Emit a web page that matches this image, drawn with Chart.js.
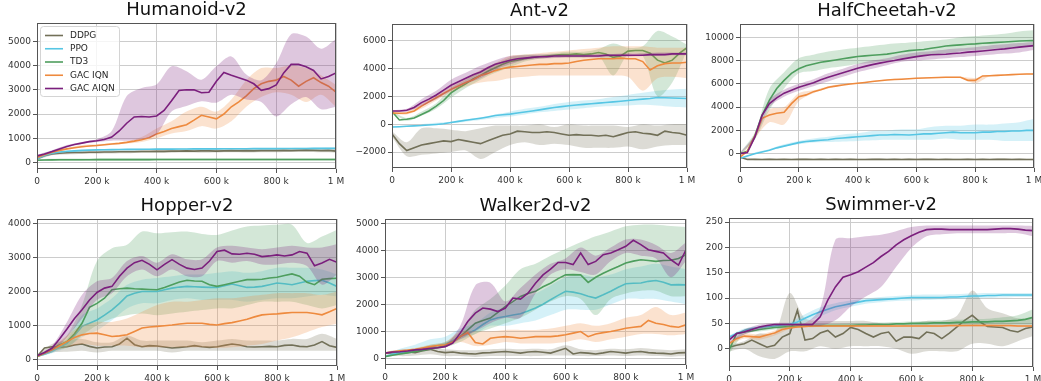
<!DOCTYPE html>
<html>
<head>
<meta charset="utf-8">
<script src="https://cdn.jsdelivr.net/npm/chart.js@4.4.1/dist/chart.umd.min.js"></script>
<style>
  body { margin: 0; background: #fff; }
  #page { position: relative; width: 1041px; height: 381px; overflow: hidden; background: #fff; }
  canvas { position: absolute; }
</style>
</head>
<body>
<div id="page">
  <canvas id="humanoid"></canvas>
  <canvas id="ant"></canvas>
  <canvas id="cheetah"></canvas>
  <canvas id="hopper"></canvas>
  <canvas id="walker"></canvas>
  <canvas id="swimmer"></canvas>
</div>
<script>
// timesteps in thousands
const stepsFine = [0,25,50,75,100,125,150,175,200,225,250,275,300,325,350,375,400,425,450,475,500,525,550,575,600,625,650,675,700,725,750,775,800,825,850,875,900,925,950,975,1000];
const stepsCoarse = [0,50,100,150,200,250,300,350,400,450,500,550,600,650,700,750,800,850,900,950,1000];
const xTicks = [0,200,400,600,800,1000];
const xTickLabels = ['0','200 k','400 k','600 k','800 k','1 M'];

const seriesNames = ['DDPG','PPO','TD3','GAC IQN','GAC AIQN'];
const seriesColors = ['#727058','#56c6e4','#4e9e5e','#ee8a3e','#7b1f7d'];
const bandColors = ['rgba(114,112,88,0.25)','rgba(86,198,228,0.25)','rgba(78,158,94,0.25)','rgba(238,138,62,0.25)','rgba(123,31,125,0.25)'];

// ---- Humanoid-v2
const humanoidTicks = [0,1000,2000,3000,4000,5000];
const humanoidDDPG = [150,280,350,380,400,410,410,420,420,430,430,440,440,445,450,450,460,460,470,470,480,470,480,480,470,480,490,480,490,480,490,490,490,500,490,500,510,500,490,500,470];
const humanoidDDPGLo = [100,300,330,350,360,370,380,390,390,400,410,400,410,420,410,420,420,430,430,420,400];
const humanoidDDPGHi = [200,400,440,470,490,500,500,510,520,530,540,540,550,550,560,560,560,570,570,580,560];
const humanoidPPO = [150,300,380,430,460,480,500,510,520,525,530,535,540,540,545,545,550,550,550,555,555,560,560,560,560,565,565,565,565,570,570,570,570,575,575,575,575,580,580,580,580];
const humanoidPPOLo = [120,330,410,450,480,490,500,505,510,515,520,520,525,525,530,530,535,535,540,540,545];
const humanoidPPOHi = [180,390,470,510,540,550,560,565,570,575,580,585,590,590,595,595,600,600,605,610,615];
const humanoidTD3 = [90,100,105,110,110,112,114,115,116,116,117,118,118,118,119,119,120,120,120,120,121,121,121,121,122,122,122,122,122,123,123,123,123,123,124,124,124,124,124,125,125];
const humanoidTD3Lo = [60,60,65,65,70,70,70,70,70,70,70,70,70,70,70,70,70,70,70,70,70];
const humanoidTD3Hi = [130,150,160,165,165,170,170,170,170,170,170,170,170,175,175,175,175,175,175,175,175];
const humanoidIQN = [200,330,420,500,560,610,650,680,700,730,760,790,830,880,940,1020,1180,1280,1400,1480,1560,1750,1950,1880,1800,2000,2300,2500,2750,3050,3250,3350,3400,3550,3400,3150,3350,3500,3300,3150,2900];
const humanoidIQNLo = [150,380,520,620,670,720,780,850,1000,1200,1300,1500,1400,1700,2300,2700,2900,2800,2500,2800,2300];
const humanoidIQNHi = [250,460,600,720,750,800,880,1050,1400,1700,2100,2300,2100,2600,3400,3900,3900,4000,3900,3600,3200];
const humanoidAIQN = [270,350,450,560,660,740,800,860,900,950,1050,1300,1620,1880,1900,1880,1920,2150,2550,2970,3000,3000,2880,2900,3350,3720,3600,3500,3400,3250,2980,3050,3200,3700,4050,4050,3950,3800,3450,3550,3700];
const humanoidAIQNLo = [230,400,620,760,840,900,900,960,1160,2100,2330,2530,2470,2800,2600,2500,1900,2400,2700,2200,2300];
const humanoidAIQNHi = [310,500,720,850,960,1300,2740,3080,3220,3970,3770,3420,3970,4380,3630,3400,4100,5300,5200,4700,5100];

// ---- Ant-v2
const antTicks = [-2000,0,2000,4000,6000];
const antDDPG = [-700,-1400,-1900,-1700,-1500,-1400,-1300,-1200,-1250,-1100,-1200,-1300,-1400,-1200,-1000,-800,-700,-500,-550,-600,-600,-550,-600,-700,-800,-750,-800,-800,-850,-800,-900,-750,-600,-550,-650,-700,-800,-500,-600,-650,-800];
const antDDPGLo = [-900,-2300,-2200,-2100,-2000,-1900,-2500,-2000,-1500,-1300,-1500,-1400,-1500,-1700,-1700,-1700,-1600,-1800,-1600,-1500,-1500];
const antDDPGHi = [-500,-1300,-300,-300,-400,-500,-300,-100,-100,-100,0,-200,0,-100,-100,-100,-200,0,-100,0,0];
const antPPO = [-200,-180,-150,-120,-100,-60,-20,30,120,200,280,350,430,520,620,680,720,800,880,950,1030,1120,1200,1260,1320,1380,1420,1470,1510,1560,1600,1650,1700,1750,1800,1850,1920,1900,1880,1860,1840];
const antPPOLo = [-250,-180,-100,-30,70,180,300,450,550,700,850,950,1050,1150,1250,1300,1350,1400,1350,1250,1200];
const antPPOHi = [-150,-90,0,100,180,350,500,700,900,1100,1250,1450,1600,1700,1800,1950,2100,2250,2400,2500,2550];
const antTD3 = [900,300,350,450,700,950,1300,1700,2250,2600,2900,3250,3500,3800,4050,4300,4500,4600,4700,4800,4850,4900,4950,5000,5000,5050,5000,5050,5150,5050,4800,4900,5250,5300,5300,5100,4600,4400,4600,5100,5500];
const antTD3Lo = [850,250,600,1100,1900,2600,3200,3700,4100,4500,4700,4800,4800,4800,4900,3500,5000,4900,2000,3000,5300];
const antTD3Hi = [950,450,900,1500,2600,3200,3800,4300,4800,5000,5000,5100,5200,5200,5400,5800,5500,5600,6700,6300,5700];
const antIQN = [800,780,800,950,1300,1600,1900,2200,2500,2750,3000,3200,3500,3650,3850,4000,4100,4150,4200,4250,4300,4300,4350,4350,4400,4500,4600,4650,4700,4700,4700,4750,4700,4700,4500,3900,4200,4350,4400,4400,4450];
const antIQNLo = [750,700,1100,1700,2300,2700,3000,3100,3300,3400,3500,3500,3500,3500,3500,3500,3400,2400,3300,3400,3300];
const antIQNHi = [850,900,1500,2100,2700,3300,3900,4400,4900,5000,5100,5200,5300,5400,5500,5600,5600,5600,5500,5500,5500];
const antAIQN = [950,950,1000,1200,1550,1800,2100,2450,2800,3050,3300,3550,3750,4050,4300,4450,4600,4700,4750,4800,4850,4850,4900,4900,4900,4900,4900,4900,4900,4950,4950,4950,4950,4950,4950,5000,5000,5000,5050,5050,5050];
const antAIQNLo = [900,900,1300,1800,2400,2900,3300,3900,4300,4600,4700,4750,4800,4800,4800,4850,4850,4900,4900,4950,4950];
const antAIQNHi = [1000,1100,1800,2400,3200,3700,4200,4600,4900,4950,5000,5000,5000,5000,5050,5050,5100,5100,5150,5150,5150];

// ---- HalfCheetah-v2
const cheetahTicks = [0,2000,4000,6000,8000,10000];
const cheetahDDPG = [-300,-500,-480,-500,-490,-500,-490,-500,-480,-490,-500,-490,-500,-480,-500,-490,-500,-500,-490,-480,-500,-490,-500,-490,-500,-480,-490,-500,-490,-500,-500,-490,-500,-490,-500,-480,-490,-500,-490,-500,-500];
const cheetahDDPGLo = [-350,-560,-560,-560,-560,-560,-560,-560,-560,-560,-560,-560,-560,-560,-560,-560,-560,-560,-560,-560,-560];
const cheetahDDPGHi = [-250,-430,-420,-430,-430,-420,-430,-420,-430,-430,-420,-430,-420,-430,-430,-420,-430,-430,-420,-430,-430];
const cheetahPPO = [-400,-200,0,150,300,500,650,800,950,1050,1100,1150,1200,1300,1350,1400,1450,1500,1550,1600,1600,1650,1620,1600,1650,1700,1700,1750,1800,1850,1800,1800,1800,1850,1850,1900,1900,1950,1950,2000,2000];
const cheetahPPOLo = [-450,-50,250,600,800,950,1000,1050,1100,1150,1200,1200,1200,1200,1300,1200,1200,1200,1100,1100,1100];
const cheetahPPOHi = [-350,100,400,800,1100,1300,1450,1650,1750,1950,2000,2100,2100,2300,2400,2400,2500,2500,2600,2700,3000];
const cheetahTD3 = [0,200,1500,3300,4600,5600,6300,6900,7300,7550,7700,7850,7950,8050,8150,8250,8350,8400,8450,8500,8550,8650,8750,8850,8900,8950,9050,9150,9250,9300,9350,9400,9430,9480,9520,9560,9600,9640,9680,9700,9710];
const cheetahTD3Lo = [-100,1200,3750,5600,6900,7100,7340,7500,7700,7800,8000,8200,8300,8500,8600,8800,8900,9000,9050,9150,9200];
const cheetahTD3Hi = [100,1800,5600,7000,8200,8500,8770,8950,9100,9250,9400,9500,9600,9700,9800,10000,10100,10200,10300,10500,10600];
const cheetahIQN = [-300,200,1460,3040,3320,3470,3550,4300,4900,5050,5330,5500,5700,5800,5900,5980,6050,6120,6200,6260,6330,6370,6400,6440,6480,6500,6520,6540,6560,6560,6560,6300,6300,6680,6700,6730,6760,6790,6820,6840,6850];
const cheetahIQNLo = [-350,1300,2700,2500,4500,5200,5600,5900,6000,6200,6300,6400,6450,6500,6500,6500,6050,6650,6700,6800,6800];
const cheetahIQNHi = [-250,1600,3800,4000,5200,5450,5800,6000,6100,6250,6380,6450,6520,6570,6600,6600,6500,6750,6800,6850,6900];
const cheetahAIQN = [0,100,1400,3300,4300,4800,5200,5450,5700,5900,6100,6350,6560,6750,6950,7150,7340,7500,7650,7780,7900,8000,8120,8230,8340,8420,8500,8520,8540,8600,8650,8720,8770,8820,8880,8950,9000,9080,9150,9220,9280];
const cheetahAIQNLo = [-50,1300,4000,4900,5400,5800,6200,6600,7000,7300,7600,7900,8000,8100,8200,8300,8400,8500,8600,8700,8900];
const cheetahAIQNHi = [50,1600,4600,5500,6000,6400,6900,7300,7700,8000,8200,8500,8700,8800,8950,9050,9150,9300,9400,9500,9600];

// ---- Hopper-v2
const hopperTicks = [0,1000,2000,3000,4000];
const hopperDDPG = [80,330,370,350,370,420,450,380,330,360,370,450,620,430,370,400,390,360,330,350,370,400,370,350,370,410,450,420,370,360,370,380,370,410,420,380,370,420,520,400,350];
const hopperDDPGLo = [60,200,220,250,200,250,250,250,250,200,250,250,250,250,250,250,250,250,250,250,250];
const hopperDDPGHi = [100,450,550,600,500,500,700,550,550,550,550,500,550,600,550,550,550,600,600,750,600];
const hopperPPO = [80,150,230,350,470,700,970,1060,1160,1300,1460,1650,1870,1950,2000,2000,2000,2050,2100,2130,2150,2140,2130,2120,2120,2170,2220,2170,2120,2130,2150,2200,2250,2230,2200,2250,2300,2320,2330,2250,2150];
const hopperPPOLo = [60,180,350,650,850,1150,1500,1650,1650,1750,1800,1750,1750,1750,1700,1750,1800,1800,1850,1900,1850];
const hopperPPOHi = [100,300,600,1300,1500,1800,2200,2350,2400,2450,2500,2500,2550,2600,2550,2600,2700,2700,2700,2650,2500];
const hopperTD3 = [80,180,300,420,520,750,1060,1530,1650,1800,2050,2080,2100,2080,2070,2060,2050,2120,2200,2280,2330,2310,2300,2200,2150,2200,2250,2300,2350,2350,2360,2400,2420,2470,2520,2450,2270,2200,2360,2380,2390];
const hopperTD3Lo = [60,250,350,700,1000,1200,1300,1350,1300,1350,1400,1450,1500,1500,1600,1700,1700,1700,1600,1500,1600];
const hopperTD3Hi = [100,350,700,1600,2900,3280,3380,3770,3720,3750,3770,3700,3670,3800,3920,3950,3970,3970,3430,3620,3820];
const hopperIQN = [80,180,280,400,520,640,720,760,770,720,670,690,720,820,920,950,970,990,1010,1040,1060,1060,1060,1030,1010,1050,1080,1130,1180,1250,1310,1330,1340,1360,1380,1380,1380,1350,1310,1400,1500];
const hopperIQNLo = [60,200,350,450,400,400,400,350,350,350,350,350,330,350,400,450,550,650,800,950,1050];
const hopperIQNHi = [100,350,700,1000,1100,1100,1200,1400,1600,1700,1700,1750,1800,1800,1850,1900,1950,1950,1950,1900,2000];
const hopperAIQN = [100,200,325,600,890,1200,1460,1750,1970,2100,2150,2450,2690,2850,2920,2800,2640,2800,2940,2800,2690,2650,2690,2900,3180,3220,3110,3100,3130,3100,3030,3050,3080,3050,3080,3180,3130,2760,2840,2950,2860];
const hopperAIQNLo = [80,250,650,1200,1750,1950,2450,2650,2450,2650,2450,2450,2900,2850,2900,2800,2800,2850,2750,2200,2500];
const hopperAIQNHi = [120,400,1100,1900,2300,2400,2900,3050,2850,3100,2950,2950,3300,3350,3300,3250,3300,3350,3300,3300,3400];

// ---- Walker2d-v2
const walkerTicks = [0,1000,2000,3000,4000,5000];
const walkerDDPG = [190,200,200,240,210,280,330,250,210,230,190,170,160,200,210,230,250,220,190,230,250,220,190,280,370,160,210,190,160,200,250,220,190,230,250,210,190,180,160,200,210];
const walkerDDPGLo = [150,80,100,150,80,80,50,80,80,80,80,100,100,80,80,100,80,100,80,60,80];
const walkerDDPGHi = [230,320,320,400,330,300,300,330,350,330,350,330,480,330,300,350,330,380,330,300,330];
const walkerPPO = [60,150,200,260,310,370,420,470,530,650,800,920,1050,1250,1420,1500,1550,1600,1650,1750,1860,2000,2170,2330,2480,2450,2390,2300,2230,2350,2480,2630,2760,2780,2790,2850,2880,2820,2720,2730,2720];
const walkerPPOLo = [40,200,300,400,500,700,900,1200,1200,1300,1400,1600,1800,1800,1800,2000,2200,2200,2200,2100,2000];
const walkerPPOHi = [80,350,500,700,800,1100,1300,1700,1900,2200,2400,2700,3000,3100,3000,3100,3300,3400,3500,3400,3300];
const walkerTD3 = [60,110,160,200,250,300,350,400,460,600,800,1050,1300,1400,1490,1700,1920,2100,2290,2400,2480,2650,2780,2950,3090,3100,3090,2810,3000,3150,3280,3400,3530,3600,3650,3620,3590,3620,3630,3700,3840];
const walkerTD3Lo = [40,130,200,300,400,600,900,1100,1300,1500,1800,2100,2300,2200,1600,2200,2400,2500,2500,2300,2300];
const walkerTD3Hi = [80,200,320,500,600,1000,1800,2200,2700,3300,3500,3800,4050,4300,4520,4700,4890,4950,4950,4900,4860];
const walkerIQN = [190,240,280,300,330,380,430,470,500,600,800,950,580,530,740,780,800,780,740,770,800,800,800,830,870,930,990,800,900,950,990,1050,1110,1150,1180,1400,1300,1250,1180,1150,1240];
const walkerIQNLo = [170,230,280,380,420,600,450,500,600,550,550,550,600,700,600,700,800,900,900,850,900];
const walkerIQNHi = [210,280,380,500,600,1000,1000,1000,1050,1050,1050,1100,1200,1300,1200,1300,1500,1600,1900,1600,1700];
const walkerAIQN = [190,230,240,270,310,330,360,390,430,560,930,1360,1670,1860,1820,1730,1860,2230,2190,2410,2780,3090,3300,3550,3550,3470,3900,3470,3590,3840,3900,4020,4150,4370,4210,4020,3960,3900,3650,3450,4020];
const walkerAIQNLo = [170,220,280,350,400,700,1000,1300,1500,1500,2400,3100,3300,3200,3100,3600,3900,3800,3700,3000,3600];
const walkerAIQNHi = [210,260,340,420,500,1200,2700,2800,2100,2600,3100,3500,3700,4100,3800,4100,4400,4400,4200,3900,4300];

// ---- Swimmer-v2
const swimmerTicks = [0,50,100,150,200,250];
const swimmerDDPG = [3,7,10,17,10,3,7,23,30,76,17,20,31,36,23,30,42,38,30,23,30,33,15,23,23,20,33,30,20,31,43,56,66,53,44,43,42,36,33,40,43];
const swimmerDDPGLo = [-5,0,-15,-20,-5,-5,5,0,5,5,5,0,-10,-5,-5,-5,10,10,5,15,25];
const swimmerDDPGHi = [8,15,30,30,110,60,55,55,55,55,50,45,50,55,55,65,115,80,70,60,60];
const swimmerPPO = [23,30,36,40,42,44,45,47,48,53,60,67,73,78,83,86,89,92,95,96,97,98,99,100,101,101,101,101,101,102,102,103,104,104,105,105,106,106,106,106,106];
const swimmerPPOLo = [20,32,39,42,44,52,64,76,83,89,92,94,95,96,97,98,99,100,101,102,102];
const swimmerPPOHi = [26,40,45,48,52,68,82,90,95,99,102,104,106,107,107,108,109,110,110,110,110];
const swimmerTD3 = [-3,30,33,35,38,40,42,43,44,45,45,46,46,46,46,46,46,47,47,48,48,48,49,49,50,50,50,51,51,51,52,52,53,53,53,54,54,55,56,58,62];
const swimmerTD3Lo = [-10,28,34,38,41,43,43,44,44,45,45,46,46,46,47,47,47,48,48,48,48];
const swimmerTD3Hi = [5,38,42,46,47,48,49,49,50,51,52,53,54,55,56,57,58,59,62,66,78];
const swimmerIQN = [10,20,25,24,23,27,31,38,41,43,44,45,45,45,45,45,45,45,45,45,45,45,45,45,45,45,45,45,45,46,46,46,46,46,46,46,46,46,45,45,45];
const swimmerIQNLo = [6,20,18,26,39,42,43,43,43,43,43,43,43,43,43,43,44,44,43,43,43];
const swimmerIQNHi = [14,30,28,36,46,47,47,47,47,47,47,47,47,47,47,47,48,48,47,47,47];
const swimmerAIQN = [17,30,33,38,43,46,48,48,48,48,48,48,63,96,122,141,146,152,161,170,182,192,205,215,223,230,235,236,236,235,235,235,235,235,235,236,237,237,236,234,233];
const swimmerAIQNLo = [12,28,38,44,45,45,45,56,83,103,122,162,199,222,226,228,228,228,228,228,222];
const swimmerAIQNHi = [22,38,48,51,51,51,80,215,218,222,225,232,240,243,243,243,243,243,243,243,242];

const FONT = 'DejaVu Sans';
const YW = 45, TH = 24, XH = 20, PR = 12;

// box round the axes, drawn over the lines like matplotlib spines
const framePlugin = {
  id: 'frame',
  afterDatasetsDraw(chart) {
    const { ctx, chartArea: a } = chart;
    ctx.save();
    ctx.strokeStyle = '#555';
    ctx.lineWidth = 1;
    ctx.strokeRect(a.left + 0.5, a.top + 0.5, a.right - a.left - 1, a.bottom - a.top - 1);
    ctx.restore();
  }
};

// legend inside the axes, top left
const boxLegend = {
  id: 'boxLegend',
  afterDraw(chart, args, opts) {
    if (!opts.show) return;
    const { ctx, chartArea: a } = chart;
    const x = a.left + 3, y = a.top + 3;
    ctx.save();
    ctx.fillStyle = 'rgba(255,255,255,0.8)';
    ctx.strokeStyle = '#d4d4d4';
    ctx.lineWidth = 1;
    ctx.beginPath();
    ctx.roundRect(x + 0.5, y + 0.5, 79, 70, 3);
    ctx.fill();
    ctx.stroke();
    ctx.font = '9px "' + FONT + '"';
    ctx.textBaseline = 'middle';
    seriesNames.forEach((name, k) => {
      const cy = y + 9.5 + k * 13.25;
      ctx.strokeStyle = seriesColors[k];
      ctx.lineWidth = 1.6;
      ctx.beginPath();
      ctx.moveTo(x + 5, cy);
      ctx.lineTo(x + 23, cy);
      ctx.stroke();
      ctx.fillStyle = '#262626';
      ctx.fillText(name, x + 30, cy);
    });
    ctx.restore();
  }
};

Chart.register(framePlugin, boxLegend);

function pts(xs, ys) {
  return xs.map((x, i) => ({ x: x, y: ys[i] }));
}

function fmtY(v) {
  return v < 0 ? '\u2212' + Math.abs(v) : String(v);
}

function panel(id, title, area, means, los, his, yMin, yMax, yTicks, showLegend) {
  const cv = document.getElementById(id);
  const left = area[0] - YW, top = area[1] - TH;
  cv.width = area[2] + PR - left;
  cv.height = area[3] + XH - top;
  cv.style.left = left + 'px';
  cv.style.top = top + 'px';

  const datasets = [];
  means.forEach((m, k) => {
    const ord = 50 - 10 * k;
    datasets.push({ data: pts(stepsCoarse, los[k]), borderColor: 'transparent', borderWidth: 0,
      pointRadius: 0, fill: false, tension: 0.3, order: ord + 2 });
    datasets.push({ data: pts(stepsCoarse, his[k]), borderColor: 'transparent', borderWidth: 0,
      pointRadius: 0, fill: '-1', backgroundColor: bandColors[k], tension: 0.3, order: ord + 1 });
    datasets.push({ label: seriesNames[k], data: pts(stepsFine, m), borderColor: seriesColors[k],
      borderWidth: 1.6, pointRadius: 0, fill: false, tension: 0, order: ord });
  });

  const tickFont = { family: FONT, size: 9 };
  const grid = { color: '#cccccc', lineWidth: 1, tickColor: '#555', tickLength: 4 };

  new Chart(cv, {
    type: 'line',
    data: { datasets: datasets },
    options: {
      responsive: false,
      animation: false,
      layout: { padding: { left: 0, right: PR, top: 0, bottom: 0 } },
      plugins: {
        legend: { display: false },
        tooltip: { enabled: false },
        title: {
          display: true, text: title, fullSize: false, color: '#111',
          font: { family: FONT, size: 18, weight: 'normal', lineHeight: '22px' },
          padding: { top: 0, bottom: 2 }
        },
        boxLegend: { show: showLegend }
      },
      scales: {
        x: {
          type: 'linear', min: 0, max: 1000,
          afterFit: s => { s.height = XH; },
          afterBuildTicks: s => { s.ticks = xTicks.map(v => ({ value: v })); },
          ticks: { callback: v => xTickLabels[xTicks.indexOf(v)], font: tickFont, color: '#333',
            padding: 3, maxRotation: 0, autoSkip: false },
          grid: grid,
          border: { display: false }
        },
        y: {
          min: yMin, max: yMax,
          afterFit: s => { s.width = YW; },
          afterBuildTicks: s => { s.ticks = yTicks.map(v => ({ value: v })); },
          ticks: { callback: v => fmtY(v), font: tickFont, color: '#333', padding: 2, autoSkip: false },
          grid: grid,
          border: { display: false }
        }
      }
    }
  });
}

panel('humanoid', 'Humanoid-v2', [37, 23, 336, 169],
  [humanoidDDPG, humanoidPPO, humanoidTD3, humanoidIQN, humanoidAIQN],
  [humanoidDDPGLo, humanoidPPOLo, humanoidTD3Lo, humanoidIQNLo, humanoidAIQNLo],
  [humanoidDDPGHi, humanoidPPOHi, humanoidTD3Hi, humanoidIQNHi, humanoidAIQNHi],
  -270, 5760, humanoidTicks, true);

panel('ant', 'Ant-v2', [392, 24, 687, 168],
  [antDDPG, antPPO, antTD3, antIQN, antAIQN],
  [antDDPGLo, antPPOLo, antTD3Lo, antIQNLo, antAIQNLo],
  [antDDPGHi, antPPOHi, antTD3Hi, antIQNHi, antAIQNHi],
  -3150, 7200, antTicks, false);

panel('cheetah', 'HalfCheetah-v2', [740, 24, 1034, 168],
  [cheetahDDPG, cheetahPPO, cheetahTD3, cheetahIQN, cheetahAIQN],
  [cheetahDDPGLo, cheetahPPOLo, cheetahTD3Lo, cheetahIQNLo, cheetahAIQNLo],
  [cheetahDDPGHi, cheetahPPOHi, cheetahTD3Hi, cheetahIQNHi, cheetahAIQNHi],
  -1230, 11140, cheetahTicks, false);

panel('hopper', 'Hopper-v2', [37, 219, 337, 366],
  [hopperDDPG, hopperPPO, hopperTD3, hopperIQN, hopperAIQN],
  [hopperDDPGLo, hopperPPOLo, hopperTD3Lo, hopperIQNLo, hopperAIQNLo],
  [hopperDDPGHi, hopperPPOHi, hopperTD3Hi, hopperIQNHi, hopperAIQNHi],
  -200, 4140, hopperTicks, false);

panel('walker', 'Walker2d-v2', [385, 219, 686, 365],
  [walkerDDPG, walkerPPO, walkerTD3, walkerIQN, walkerAIQN],
  [walkerDDPGLo, walkerPPOLo, walkerTD3Lo, walkerIQNLo, walkerAIQNLo],
  [walkerDDPGHi, walkerPPOHi, walkerTD3Hi, walkerIQNHi, walkerAIQNHi],
  -250, 5160, walkerTicks, false);

panel('swimmer', 'Swimmer-v2', [729, 218, 1033, 367],
  [swimmerDDPG, swimmerPPO, swimmerTD3, swimmerIQN, swimmerAIQN],
  [swimmerDDPGLo, swimmerPPOLo, swimmerTD3Lo, swimmerIQNLo, swimmerAIQNLo],
  [swimmerDDPGHi, swimmerPPOHi, swimmerTD3Hi, swimmerIQNHi, swimmerAIQNHi],
  -36, 258, swimmerTicks, false);
</script>
</body>
</html>
